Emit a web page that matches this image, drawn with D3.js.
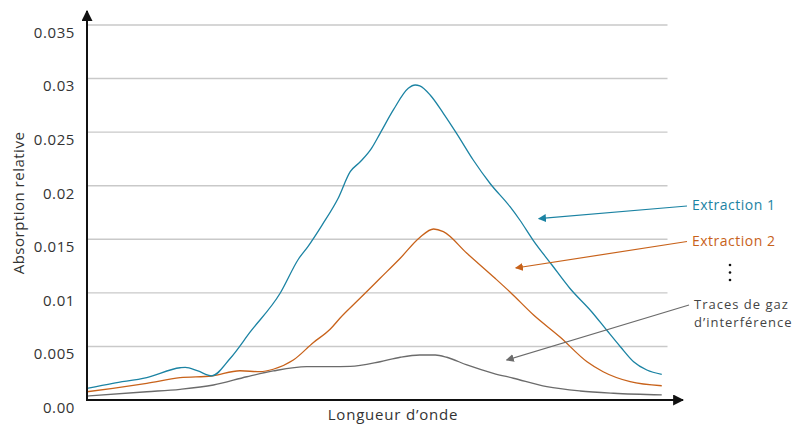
<!DOCTYPE html>
<html><head><meta charset="utf-8">
<script src="https://cdn.jsdelivr.net/npm/d3@7"></script>
<style>body{margin:0;background:#fff}svg{display:block}text{font-family:"Open Sans",sans-serif}</style>
</head><body><svg id="c" width="810" height="427"></svg>
<script>
// Data (x = relative wavelength position 0..100, y = relative absorption)
const ext1X = [0,4.5,10.4,16.2,17.1,19.3,21.7,24.9,28.4,33.6,36.8,38.5,40.9,43.7,45.8,47.5,49.5,51.0,53.3,55.9,57.1,57.9,59.7,62.0,64.3,67.2,70.1,73.6,75.3,77.6,80.9,84.0,87.8,90.4,92.8,95.1,97.4,100];
const ext1Y = [.00109,.00156,.00208,.00301,.00305,.00271,.00226,.00387,.00635,.00996,.01316,.01437,.01633,.01883,.02131,.02221,.02349,.02489,.02707,.02909,.0294,.02931,.02847,.02676,.02489,.0224,.02023,.01804,.0168,.01493,.0126,.01043,.00824,.00653,.00497,.00357,.0028,.0024];
const ext2X = [0,4.5,10.4,16.2,21.7,26.6,30.1,32.4,35.9,39.4,42.3,44.0,47.5,51.0,54.5,57.9,60.3,62.0,66.1,71.0,73.6,77.7,82.3,87.0,89.8,94.5,100];
const ext2Y = [.00077,.00109,.00156,.00208,.00224,.00273,.00264,.00287,.00373,.00537,.0066,.00763,.00949,.01136,.01323,.01517,.01596,.01571,.01369,.01136,.01008,.00793,.00588,.00357,.00264,.00171,.00133];
const gasX = [0,10.4,16.2,22.0,27.8,32.4,38.2,42.3,45.8,51.0,54.5,57.9,60.6,62.6,66.1,70.7,74.2,80.0,85.8,91.6,100];
const gasY = [.00037,.00077,.001,.0014,.00217,.00271,.00311,.00311,.00313,.00357,.00399,.0042,.0042,.00399,.00327,.00249,.00203,.00124,.00084,.00063,.00047];
const yTicks = [0,0.005,0.01,0.015,0.02,0.025,0.03,0.035];
const yTickLabels = ["0.00","0.005","0.01","0.015","0.02","0.025","0.03","0.035"];
const seriesNames = ["Extraction 1","Extraction 2","Traces de gaz|d\u2019interférence"];
const xTitle = "Longueur d\u2019onde";
const yTitle = "Absorption relative";
// annotation anchor points (data coords of arrow tips)
const arrowTipX = [78.6, 74.6, 73.0];
const arrowTipY = [.01692, .01232, .00373];

const svg = d3.select("#c");
const x = d3.scaleLinear().domain([0,101]).range([87,667.5]);
const y = d3.scaleLinear().domain([0,0.035]).range([400,25]);
const colors = ["#1b83a3","#c8621a","#6b6b6b"];
const textColors = ["#1b83a3","#c8621a","#444"];

// defs: arrowheads
const defs = svg.append("defs");
function marker(id,col,w,h){
  defs.append("marker").attr("id",id).attr("viewBox","0 0 10 10").attr("refX",9).attr("refY",5)
   .attr("markerWidth",w).attr("markerHeight",h).attr("orient","auto-start-reverse").attr("markerUnits","userSpaceOnUse")
   .append("path").attr("d","M0,0L10,5L0,10Z").attr("fill",col);
}
marker("ax","#111",11,11);
colors.forEach((c,i)=>marker("m"+i,c,8,8));

// gridlines
svg.append("g").selectAll("line").data(yTicks.filter(d=>d>0)).join("line")
  .attr("x1",x(0)).attr("x2",x(101)).attr("y1",d=>y(d)).attr("y2",d=>y(d))
  .attr("stroke","#c9c9c9").attr("stroke-width",1.4);

// y tick labels via axis
const yAxis = d3.axisLeft(y).tickValues(yTicks).tickSize(0).tickPadding(12)
  .tickFormat((d,i)=>yTickLabels[i]);
const gy = svg.append("g").attr("transform","translate(87,0)").call(yAxis);
gy.select(".domain").remove();
gy.selectAll("text").attr("font-family","Open Sans, sans-serif").attr("font-size",15)
  .attr("letter-spacing","0.6px").attr("fill","#333").attr("dy","0.82em");

// series
const line = d3.line().x(d=>x(d[0])).y(d=>y(d[1])).curve(d3.curveMonotoneX);
const series = [[ext1X,ext1Y],[ext2X,ext2Y],[gasX,gasY]];
[2,1,0].forEach(i=>{
  const s = series[i];
  svg.append("path").datum(s[0].map((v,k)=>[v,s[1][k]]))
    .attr("d",line).attr("fill","none").attr("stroke",colors[i]).attr("stroke-width",1.3);
});

// axes with arrows
svg.append("line").attr("x1",87).attr("y1",y(0)).attr("x2",87).attr("y2",11)
  .attr("stroke","#111").attr("stroke-width",2).attr("marker-end","url(#ax)");
svg.append("line").attr("x1",86).attr("y1",y(0)).attr("x2",683).attr("y2",y(0))
  .attr("stroke","#111").attr("stroke-width",2).attr("marker-end","url(#ax)");

// axis titles
svg.append("text").attr("x",393).attr("y",420).attr("text-anchor","middle")
  .attr("font-size",15).attr("letter-spacing","0.8px").attr("fill","#333").text(xTitle);
svg.append("text").attr("transform","translate(24,203) rotate(-90)").attr("text-anchor","middle")
  .attr("font-size",15).attr("letter-spacing","0.5px").attr("fill","#333").text(yTitle);

// annotations
const labelY = [205, 241, 304.5];
const startPts = [[687,206],[687,241.5],[689,305]];
seriesNames.forEach((n,i)=>{
  svg.append("line").attr("x1",startPts[i][0]).attr("y1",startPts[i][1])
    .attr("x2",x(arrowTipX[i])).attr("y2",y(arrowTipY[i]))
    .attr("stroke",colors[i]).attr("stroke-width",1.2).attr("marker-end","url(#m"+i+")");
  const parts = n.split("|");
  parts.forEach((p,k)=>{
    const multi = parts.length>1;
    svg.append("text").attr("x",multi?694:692).attr("y",labelY[i]+k*17.8).attr("dy","0.35em")
      .attr("font-size",multi?13:14).attr("letter-spacing",multi?"1px":"0.5px")
      .attr("fill",textColors[i]).text(p);
  });
});
// vertical ellipsis
[265,272.5,280].forEach(cy=>svg.append("circle").attr("cx",730).attr("cy",cy).attr("r",1.3).attr("fill","#111"));
</script></body></html>
